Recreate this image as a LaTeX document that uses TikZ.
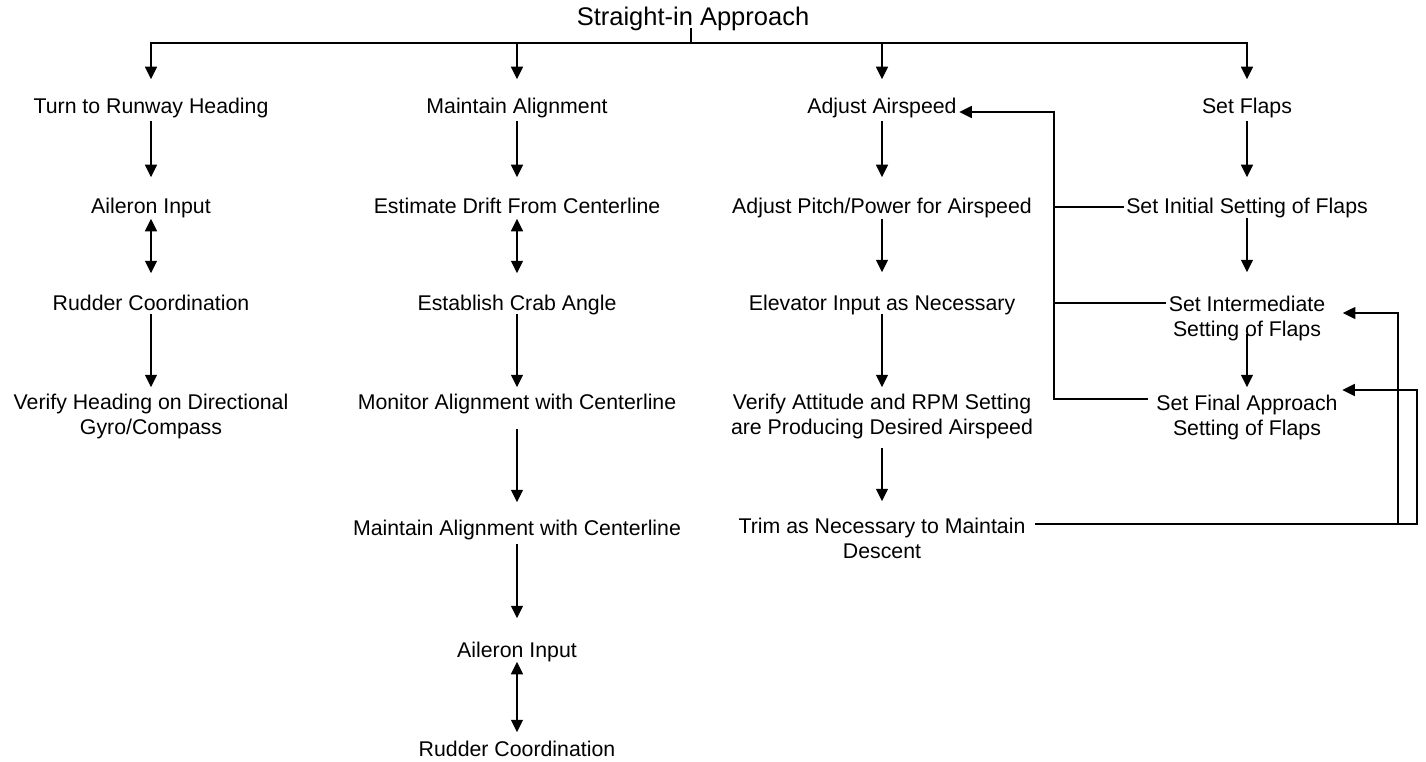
\documentclass[tikz,border=0pt]{standalone}
\usepackage{fontspec}
\setmainfont{Liberation Sans}
\usetikzlibrary{arrows.meta,calc}
\newcommand\bodysz{\fontsize{21.3pt}{25pt}\selectfont}
\newcommand\titlesz{\fontsize{25.5pt}{30pt}\selectfont}
\newcommand\twoline[2]{\begin{tabular}[t]{@{}c@{}}#1\\#2\end{tabular}}
\begin{document}
\begin{tikzpicture}[x=1pt,y=-1pt,line width=1.5pt,
  lbl/.style={font=\bodysz, inner sep=2pt, text height=15.5pt, text depth=4.5pt, anchor=base},
  lbltwo/.style={lbl, text depth=29.5pt},
  arr/.style={-{Triangle[length=12.5pt,width=12pt]}},
  dbl/.style={{Triangle[length=12.5pt,width=12pt]}-{Triangle[length=12.5pt,width=12pt]}}]
\useasboundingbox (0,0) rectangle (1426,762);

% title
\node[lbl, font=\titlesz, text height=18pt, text depth=5.4pt] (title) at (693,26) {Straight-in Approach};

% column 1
\node[lbl] (c1a) at (151,114) {Turn to Runway Heading};
\node[lbl] (c1b) at (151,213) {Aileron Input};
\node[lbl] (c1c) at (151,310) {Rudder Coordination};
\node[lbltwo] (c1d) at (151,409) {\twoline{Verify Heading on Directional}{Gyro/Compass}};

% column 2
\node[lbl] (c2a) at (517,114) {Maintain Alignment};
\node[lbl] (c2b) at (517,213) {Estimate Drift From Centerline};
\node[lbl] (c2c) at (517,310) {Establish Crab Angle};
\node[lbl] (c2d) at (517,409) {Monitor Alignment with Centerline};
\node[lbl] (c2e) at (517,535) {Maintain Alignment with Centerline};
\node[lbl] (c2f) at (517,657) {Aileron Input};
\node[lbl] (c2g) at (517,756) {Rudder Coordination};

% column 3
\node[lbl] (c3a) at (882,114) {Adjust Airspeed};
\node[lbl] (c3b) at (882,213) {Adjust Pitch/Power for Airspeed};
\node[lbl] (c3c) at (882,310) {Elevator Input as Necessary};
\node[lbltwo] (c3d) at (882,409) {\twoline{Verify Attitude and RPM Setting}{are Producing Desired Airspeed}};
\node[lbltwo] (c3e) at (882,533) {\twoline{Trim as Necessary to Maintain}{Descent}};

% column 4
\node[lbl] (c4a) at (1247,114) {Set Flaps};
\node[lbl] (c4b) at (1247,213) {Set Initial Setting of Flaps};
\node[lbltwo] (c4c) at (1247,311) {\twoline{Set Intermediate}{Setting of Flaps}};
\node[lbltwo] (c4d) at (1247,410) {\twoline{Set Final Approach}{Setting of Flaps}};

% top bus
\coordinate (bus) at (691,43);
\coordinate (tstem) at (bus |- title.base);
\draw (bus) -- ([yshift=-2pt]tstem);
\foreach \n in {c1a,c2a,c3a,c4a}
  \draw[arr, shorten >=16.5pt] (bus) -| (\n.north);

% column 1 edges
\draw[arr, shorten >=17.5pt] (c1a.south) -- (c1b.north);
\draw[dbl, shorten <=-1.5pt, shorten >=18.5pt] (c1b.south) -- (c1c.north);
\draw[arr, shorten <=-3.5pt, shorten >=3.5pt] (c1c.south) -- (c1d.north);

% column 2 edges
\draw[arr, shorten >=17.5pt] (c2a.south) -- (c2b.north);
\draw[dbl, shorten <=-1.5pt, shorten >=18.5pt] (c2b.south) -- (c2c.north);
\draw[arr, shorten <=-3.5pt, shorten >=3.5pt] (c2c.south) -- (c2d.north);
\draw[arr, shorten <=12.5pt, shorten >=14.5pt] (c2d.south) -- (c2e.north);
\draw[arr, shorten <=1.5pt, shorten >=20.5pt] (c2e.south) -- (c2f.north);
\draw[dbl, shorten <=-2.5pt, shorten >=5.5pt] (c2f.south) -- (c2g.north);

% column 3 edges
\draw[arr, shorten >=17.5pt] (c3a.south) -- (c3b.north);
\draw[arr, shorten <=-1.5pt, shorten >=19.5pt] (c3b.south) -- (c3c.north);
\draw[arr, shorten <=-3.5pt, shorten >=3.5pt] (c3c.south) -- (c3d.north);
\draw[arr, shorten <=6.5pt, shorten >=13.5pt] (c3d.south) -- (c3e.north);

% column 4 edges
\draw[arr, shorten >=17.5pt] (c4a.south) -- (c4b.north);
\draw[arr, shorten <=-2.5pt, shorten >=20.5pt] (c4b.south) -- (c4c.north);
\draw[arr, shorten <=-9.5pt, shorten >=4.5pt] (c4c.south) -- (c4d.north);

% feedback to Adjust Airspeed
\coordinate (fbx) at (1054,0);
\coordinate (c3aR) at ([yshift=-3.5pt]c3a.east);
\coordinate (c4bL) at ([yshift=0.5pt]c4b.west);
\coordinate (c4cL) at ([yshift=15pt]c4c.west);
\coordinate (c4dL) at ([yshift=18pt]c4d.west);
\draw[arr, shorten <=6pt] (c4dL) -| (fbx |- c3aR) -- (c3aR);
\draw (c4cL) -- (c4cL -| fbx);
\draw (c4bL) -- (c4bL -| fbx);

% feedback from Trim
\coordinate (trL) at ([yshift=16pt]c3e.east);
\coordinate (r1) at (1398,0);
\coordinate (r2) at (1417,0);
\coordinate (c4cR) at ([yshift=5pt]c4c.east);
\coordinate (c4dR) at ([yshift=27pt]c4d.east);
\draw[arr, shorten <=7pt, shorten >=2pt] (trL) -| (r2 |- c4dR) -- (c4dR);
\draw[arr, shorten >=15pt] (trL -| r1) -- (r1 |- c4cR) -- (c4cR);
\end{tikzpicture}
\end{document}
